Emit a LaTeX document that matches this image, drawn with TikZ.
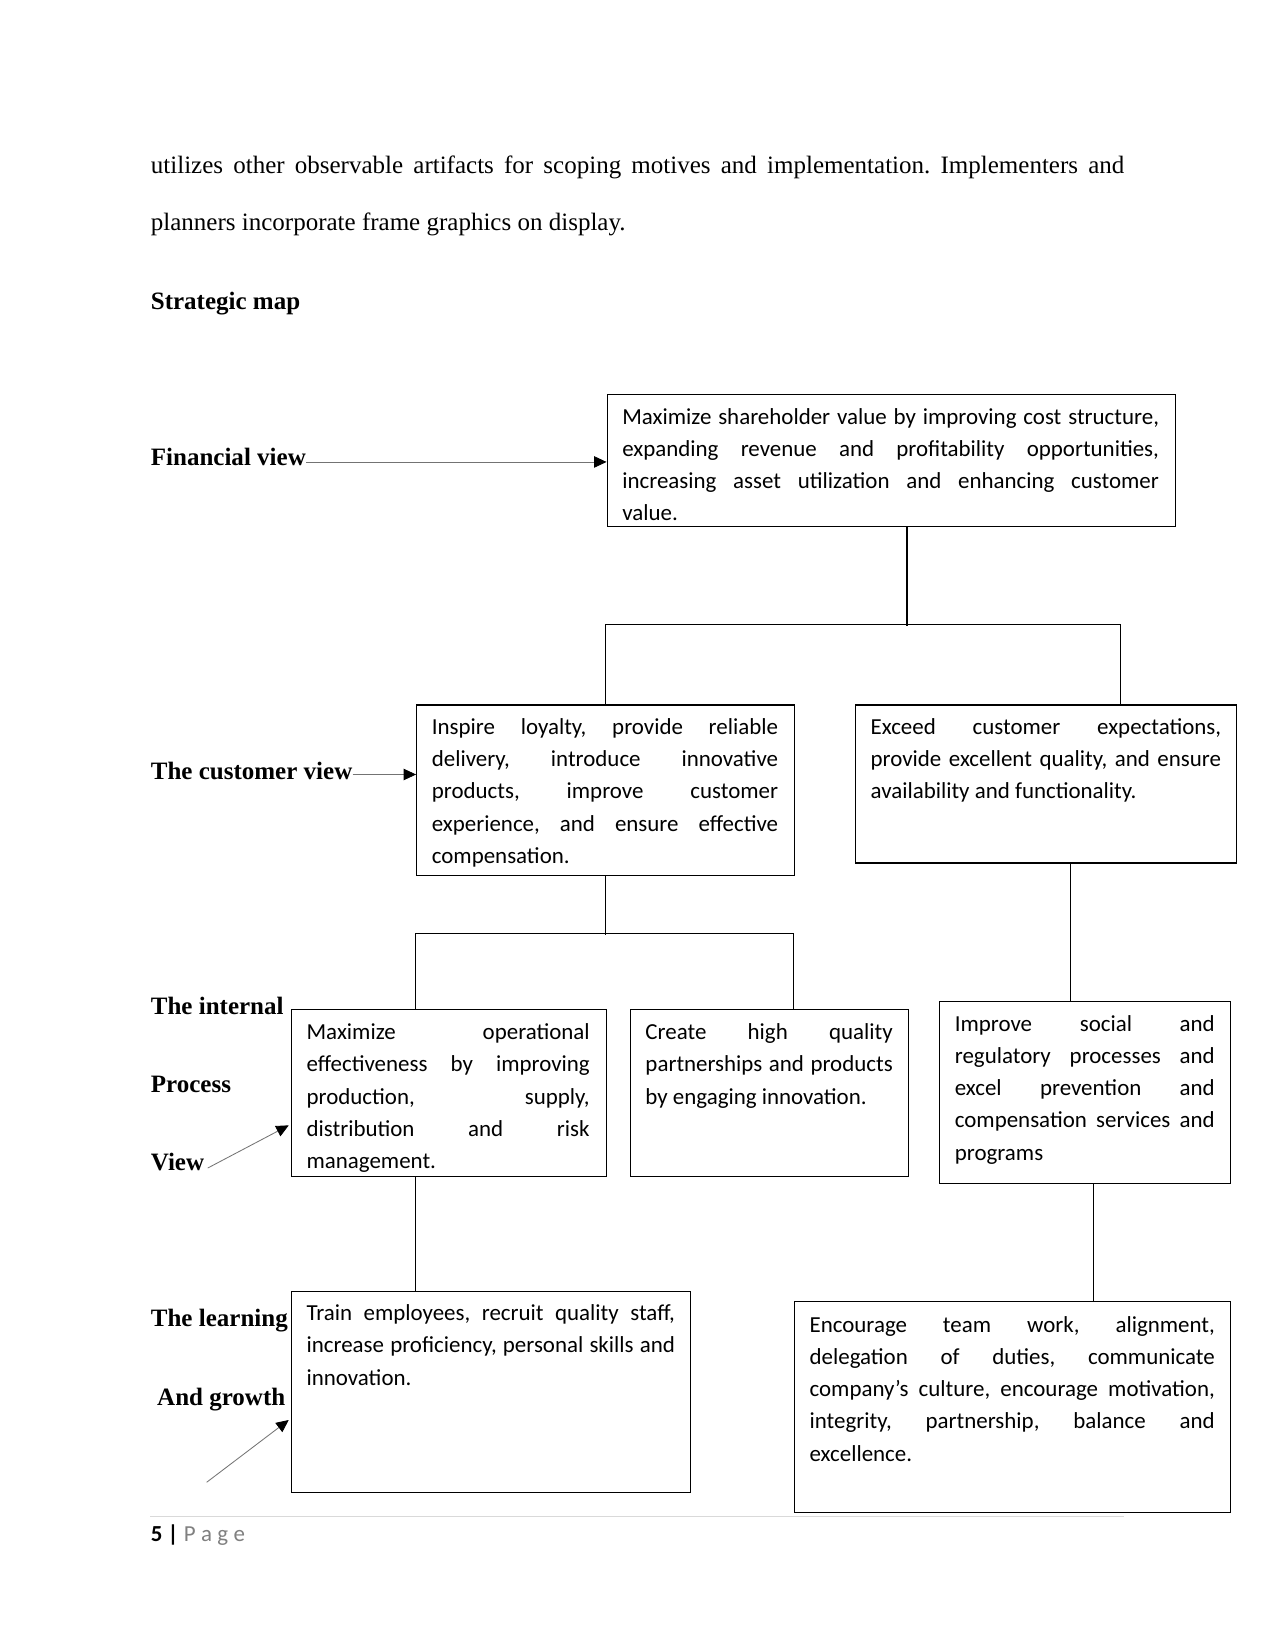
\documentclass[tikz,border=0pt]{standalone}
\usepackage{fontspec}
\setmainfont{Liberation Serif}
\newfontfamily\carl{Carlito}
\usetikzlibrary{arrows.meta,calc,fit}
\newdimen\dimU \dimU=0.50495pt
\newcommand\jl[1]{\makebox[\linewidth][s]{#1}\\}
\newcommand\btext[2]{\parbox[t]{#1\dimU}{#2}}
\frenchspacing
\tikzset{
  box/.style={draw=black, line width=0.6pt, inner sep=0pt},
  boxtext/.style={inner sep=0pt, anchor=base west, font=\carl\fontsize{11}{15.45}\selectfont},
  lab/.style={inner sep=0pt, anchor=base west, font=\bfseries\fontsize{12}{14}\selectfont},
  body/.style={inner sep=0pt, anchor=base west, font=\fontsize{12}{14}\selectfont},
  conn/.style={line width=0.6pt},
  lead/.style={draw=black!55, line width=0.4pt, -{Triangle[length=6pt,width=5.5pt,color=black]}}
}
\begin{document}
\begin{tikzpicture}[x=0.50495pt, y=-0.50495pt]
\useasboundingbox[fill=white] (0,0) rectangle (1212,1568);

% body text
\node[body] (p1) at (143,165) {\makebox[925\dimU][s]{utilizes other observable artifacts for scoping motives and implementation. Implementers and}};
\node[body] (p2) at (143,219) {planners incorporate frame graphics on display.};
\node[lab] (sm) at (143,294) {Strategic map};

% boxes
\node[box, fit={(577,375) (1117,500)}] (fin) {};
\node[box, fit={(396,670) (755,832)}] (cust1) {};
\node[box, fit={(813,670) (1175,820)}] (cust2) {};
\node[box, fit={(277,959) (576,1118)}] (int1) {};
\node[box, fit={(599,959) (863,1118)}] (int2) {};
\node[box, fit={(893,952) (1169,1125)}] (int3) {};
\node[box, fit={(277,1227) (656,1418)}] (learn1) {};
\node[box, fit={(755,1237) (1169,1437)}] (learn2) {};

% box texts
\node[boxtext] (fint) at (591,403) {\btext{510}{%
\jl{Maximize shareholder value by improving cost structure,}
\jl{expanding revenue and profitability opportunities,}
\jl{increasing asset utilization and enhancing customer}
value.}};
\node[boxtext] (cust1t) at (410,698) {\btext{329}{%
\jl{Inspire loyalty, provide reliable}
\jl{delivery, introduce innovative}
\jl{products, improve customer}
\jl{experience, and ensure effective}
compensation.}};
\node[boxtext] (cust2t) at (827,698) {\btext{333}{%
\jl{Exceed customer expectations,}
\jl{provide excellent quality, and ensure}
availability and functionality.}};
\node[boxtext] (int1t) at (291,988) {\btext{269}{%
\jl{Maximize operational}
\jl{effectiveness by improving}
\jl{production, supply,}
\jl{distribution and risk}
management.}};
\node[boxtext] (int2t) at (613,988) {\btext{235}{%
\jl{Create high quality}
\jl{partnerships and products}
by engaging innovation.}};
\node[boxtext] (int3t) at (907,980) {\btext{247}{%
\jl{Improve social and}
\jl{regulatory processes and}
\jl{excel prevention and}
\jl{compensation services and}
programs}};
\node[boxtext] (learn1t) at (291,1255) {\btext{350}{%
\jl{Train employees, recruit quality staff,}
\jl{increase proficiency, personal skills and}
innovation.}};
\node[boxtext] (learn2t) at (769,1266) {\btext{385}{%
\jl{Encourage team work, alignment,}
\jl{delegation of duties, communicate}
\jl{company’s culture, encourage motivation,}
\jl{integrity, partnership, balance and}
excellence.}};

% side labels
\node[lab] (fl) at (143,442) {Financial view};
\node[lab] (cl) at (143,741) {The customer view};
\node[lab] (il1) at (143,964) {The internal};
\node[lab] (il2) at (143,1038) {Process};
\node[lab] (vl) at (143,1112) {View};
\node[lab] (ll1) at (143,1261) {The learning};
\node[lab] (ll2) at (149,1336) {And growth};

% tree connectors
\draw[conn] ($(fin.south)+(15,0)$) -- ++(0,94);
\draw[conn] (cust1.north) -- ++(0,-76) -| ($(cust2.north)+(71,0)$);
\draw[conn] (cust1.south) -- ++(0,56);
\draw[conn] ($(int1.north)+(-31.5,0)$) |- ($(int2.north)+(23,-71)$) -- ($(int2.north)+(23,0)$);
\draw[conn] ($(cust2.south)+(23,0)$) -- ($(int3.north)+(-14,0)$);
\draw[conn] ($(int1.south)+(-31.5,0)$) -- ($(learn1.north)+(-71.5,0)$);
\draw[conn] ($(int3.south)+(8,0)$) -- ($(learn2.north)+(77,0)$);

% leader arrows
\coordinate (fstart) at ($(fl.base east)+(0,-3)$);
\draw[lead] (fstart) -- (fin.west |- fstart);
\coordinate (cstart) at ($(cl.base east)+(0,-5)$);
\draw[lead] (cstart) -- (cust1.west |- cstart);
\draw[lead] ($(vl.base east)+(3,-2)$) -- ($(int1.north west)+(-2,111)$);
\coordinate (lstart) at ($(learn1.south west)+(-80,-10)$);
\draw[lead] (lstart) -- ($(learn1.north west)+(-2,123)$);

% footer
\draw[draw=black!15, line width=0.8pt] (143,1441) -- (1068,1441);
\node[inner sep=0pt, anchor=base west, font=\carl\fontsize{11}{13}\selectfont] (pg) at (143,1465)
  {\textbf{5 |} \textcolor{black!50}{P\hspace{2.6pt}a\hspace{2.6pt}g\hspace{2.6pt}e}};
\end{tikzpicture}
\end{document}
